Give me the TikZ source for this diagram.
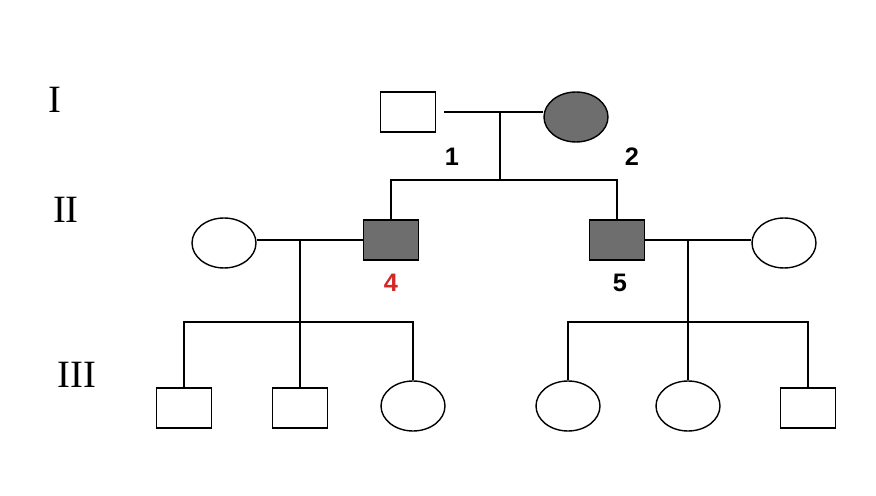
\documentclass[tikz,border=0pt]{standalone}
\usepackage{fontspec}
\setmainfont{Liberation Serif}
\newfontfamily\numfont{Liberation Sans}
\usetikzlibrary{shapes.geometric}
\definecolor{affected}{RGB}{110,110,110}
\definecolor{numred}{RGB}{210,40,40}

\begin{document}
\begin{tikzpicture}[x=0.02cm,y=-0.02cm,thick,
                    male/.style={rectangle,draw,minimum width=1.1cm,minimum height=0.8cm},
                    female/.style={ellipse,draw,minimum width=1.28cm,minimum height=1cm},
                    ill/.style={fill=affected},
                    gen/.style={font=\fontsize{22}{22}\selectfont},
                    num/.style={font=\numfont\bfseries\Large}]
  \useasboundingbox (0,0) rectangle (876,496);

  \node[gen] (g1) at (55,100) {I};
  \node[gen] (g2) at (66,210) {II};
  \node[gen] (g3) at (77,375) {III};

  % generation I
  \node[male] (m1) at (408,112) {};
  \node[female,ill] (f2) at (576,117) {};
  \node[num] (l1) at (452,157) {1};
  \node[num] (l2) at (632,157) {2};
  \coordinate (c0) at (444,112);
  \coordinate (c1) at (500,112);
  \coordinate (s1) at (500,180);
  \draw (c0) -- (f2.west |- m1.east);
  \draw (c1) -- (s1);

  % generation II
  \node[female] (f3) at (224,243) {};
  \node[male,ill] (m4) at (391,240) {};
  \node[male,ill] (m5) at (617,240) {};
  \node[female] (f6) at (784,243) {};
  \node[num,text=numred] (l4) at (391,283) {4};
  \node[num] (l5) at (620,283) {5};
  \draw (m4.north) |- (s1) -| (m5.north);
  \draw (f3.east |- m4.west) -- (m4.west);
  \draw (m5.east) -- (f6.west |- m5.east);
  \coordinate (c2) at (300,241);
  \coordinate (s2) at (300,322);
  \coordinate (c3) at (688,241);
  \coordinate (s3) at (688,322);
  \draw (c2) -- (s2);
  \draw (c3) -- (s3);

  % generation III
  \node[male] (m7) at (184,408) {};
  \node[male] (m8) at (300,408) {};
  \node[female] (f9) at (413,406) {};
  \node[female] (f10) at (568,406) {};
  \node[female] (f11) at (688,406) {};
  \node[male] (m12) at (808,408) {};
  \draw (m7.north) |- (s2) -| (f9.north);
  \draw (m8.north) -- (s2);
  \draw (f10.north) |- (s3) -| (m12.north);
  \draw (f11.north) -- (s3);
\end{tikzpicture}
\end{document}
